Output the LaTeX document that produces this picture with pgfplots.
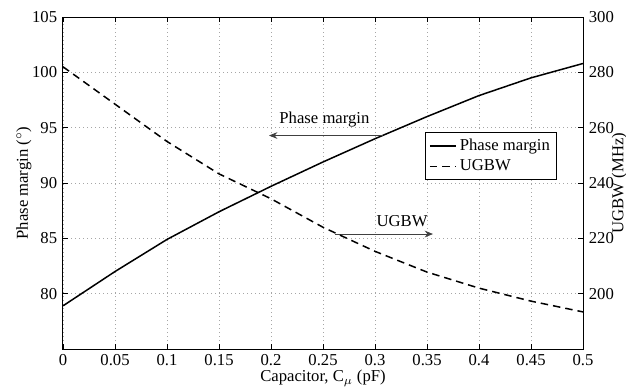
\documentclass[border=0pt]{standalone}
\usepackage{fontspec}
\setmainfont{Liberation Serif}
\usepackage{pgfplots}
\pgfplotsset{compat=1.18}
\usetikzlibrary{arrows.meta}
\begin{document}
\begin{tikzpicture}
\pgfplotsset{
  every axis/.append style={
    width=312pt, height=199.2pt, scale only axis,
    xmin=0, xmax=0.5, 
    /pgf/number format/assume math mode=true,
    tick label style={font=\fontsize{10}{12}\selectfont},
    label style={font=\fontsize{10}{12}\selectfont},
    axis line style={line width=0.6pt},
    tick style={black, line width=0.5pt},
    major tick length=3pt,
    tick align=inside,
  }
}
\begin{axis}[
  ymin=75, ymax=105,
  ytick={80,85,90,95,100,105},
  xtick={0,0.05,0.1,0.15,0.2,0.25,0.3,0.35,0.4,0.45,0.5},
  xticklabels={0,0.05,0.1,0.15,0.2,0.25,0.3,0.35,0.4,0.45,0.5},
  xtick pos=both, ytick pos=left,
  grid=major,
  grid style={gray!70, dotted, line width=0.4pt},
  xlabel={Capacitor, C$_\mu$ (pF)},
  ylabel={Phase margin ($^\circ$)},
  xlabel style={at={(axis description cs:0.5,0)}, anchor=center, yshift=-17.5pt},
  ylabel style={at={(axis description cs:0,0.5)}, anchor=center, yshift=23.4pt},
]
\addplot[black, line width=0.9pt] coordinates {
(0,78.9) (0.05,82.0) (0.1,84.9) (0.15,87.4) (0.2,89.7) (0.25,91.9)
(0.3,94.0) (0.35,96.0) (0.4,97.9) (0.45,99.5) (0.5,100.8)};
\draw[-{Stealth[length=5pt,width=4pt]}, black!75, line width=0.5pt] (axis cs:0.3077,94.29) -- (axis cs:0.1981,94.29);
\node[font=\fontsize{10}{12}\selectfont] at (axis cs:0.2514,95.70) {Phase margin};
\draw[-{Stealth[length=5pt,width=4pt]}, black!75, line width=0.5pt] (axis cs:0.2615,85.39) -- (axis cs:0.3558,85.39);
\node[font=\fontsize{10}{12}\selectfont] at (axis cs:0.326,86.53) {UGBW};
\coordinate (bl) at (rel axis cs:0,0);
\coordinate (tr) at (rel axis cs:1,1);
\end{axis}
\begin{axis}[
  ymin=180, ymax=300,
  ytick={200,220,240,260,280,300},
  axis y line*=right,
  axis x line=none,
  ylabel={UGBW (MHz)},
  ylabel style={at={(axis description cs:1,0.5)}, anchor=center, yshift=-21.8pt},
  legend style={at={(0.95,0.654)}, anchor=north east, draw=black, line width=0.6pt,
    font=\fontsize{10}{12}\selectfont, inner xsep=2pt, inner ysep=2pt, row sep=0pt,
    legend cell align=left},
  legend image code/.code={\draw[#1] (0pt,0pt) -- (15.6pt,0pt);},
]
\addlegendimage{black, line width=0.9pt}
\addlegendentry{Phase margin}
\addplot[black, line width=0.9pt, dash pattern=on 4.5pt off 3pt] coordinates {
(0,282.0) (0.05,268.5) (0.1,255.0) (0.15,243.3) (0.2,234.3) (0.25,224.0)
(0.3,215.3) (0.35,207.8) (0.4,202.0) (0.45,197.3) (0.5,193.4)};
\addlegendentry{UGBW}
\end{axis}
\pgfresetboundingbox
\path[use as bounding box] ([shift={(-37.8pt,-22.8pt)}]bl) rectangle ([shift={(25.8pt,10.2pt)}]tr);
\end{tikzpicture}
\end{document}
